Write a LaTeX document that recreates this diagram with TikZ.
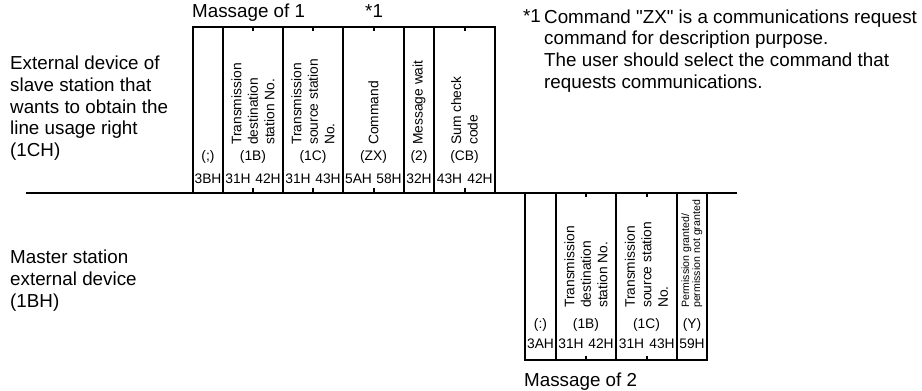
\documentclass[tikz,border=0pt]{standalone}
\usepackage{fontspec}
\setmainfont{Liberation Sans}[Ligatures=TeXOff]
\usetikzlibrary{positioning}

\begin{document}
\begin{tikzpicture}[x=1pt, y=-1pt,
  big/.style={font=\fontsize{18.8}{21.6}\selectfont, inner sep=0pt, align=left},
  cell/.style={font=\fontsize{13.8}{16.5}\selectfont, inner sep=0pt},
  vlab/.style={cell, rotate=90, anchor=west, align=left},
  vsmall/.style={font=\fontsize{10.6}{11}\selectfont, inner sep=0pt,
                 rotate=90, anchor=west, align=left},
  frame/.style={line width=1.3pt},
  tick/.style={line width=1.1pt}]
\useasboundingbox (0,0) rectangle (922,391);

% stations
\node[big, anchor=north west] (slave) at (10,56)
  {External device of\\slave station that\\wants to obtain the\\line usage right\\(1CH)};
\node[big, anchor=north west] (master) at (10,250)
  {Master station\\external device\\(1BH)};

% footnote
\node[big, anchor=north west] (fnote) at (544,9.5)
  {Command "ZX" is a communications request\\command for description purpose.\\The user should select the command that\\requests communications.};
\node[big, anchor=base east] (star) at (541,22.5) {*1};

% line
\draw[frame] (26,193) -- (737,193);

% message 1
\node[big, anchor=base west] (msg1) at (192,17) {Massage of 1};
\node[big, anchor=base west] (mark1) at (365,17) {*1};
\draw[frame] (193,192) -- (193,27) -- (495,27) -- (495,192);
\foreach \x in {223,283,343,404,434}
  \draw[frame] (\x,27) -- (\x,192);
\foreach \x in {253,313,374,465} {
  \draw[tick] (\x,27) -- (\x,31);
  \draw[tick] (\x,188) -- (\x,192);
}
\foreach \x/\t [count=\i] in {253/{Transmission\\destination\\station No.},
    313/{Transmission\\source station\\No.}, 373.5/Command,
    419/{Message wait}, 464.5/{Sum check\\code}}
  \node[vlab] (m1v\i) at (\x,145) {\t};
\foreach \x/\t [count=\i] in {208/{(;)}, 253/(1B), 313/(1C), 373.5/(ZX), 419/(2), 464.5/(CB)}
  \node[cell] (m1p\i) at (\x,157) {\t};
\foreach \x/\t [count=\i] in {208/3BH, 238/31H, 268/42H, 298/31H, 328/43H,
    358.5/5AH, 389/58H, 419/32H, 449.5/43H, 480/42H}
  \node[cell] (m1h\i) at (\x,179) {\t};

% message 2
\draw[frame] (525,193) -- (525,360) -- (707,360) -- (707,193);
\foreach \x in {556,616,677}
  \draw[frame] (\x,193) -- (\x,360);
\foreach \x in {586,647} {
  \draw[tick] (\x,193) -- (\x,197);
  \draw[tick] (\x,356) -- (\x,360);
}
\foreach \x/\t [count=\i] in {586/{Transmission\\destination\\station No.},
    646.5/{Transmission\\source station\\No.}}
  \node[vlab] (m2v\i) at (\x,308) {\t};
\node[vsmall] (m2v3) at (692,308) {Permission granted/\\permission not granted};
\foreach \x/\t [count=\i] in {540.5/(:), 586/(1B), 646.5/(1C), 692/(Y)}
  \node[cell] (m2p\i) at (\x,325) {\t};
\foreach \x/\t [count=\i] in {540.5/3AH, 571/31H, 601/42H, 631.5/31H, 662/43H, 692/59H}
  \node[cell] (m2h\i) at (\x,344) {\t};
\node[big, anchor=base west] (msg2) at (524,386.5) {Massage of 2};
\end{tikzpicture}
\end{document}
